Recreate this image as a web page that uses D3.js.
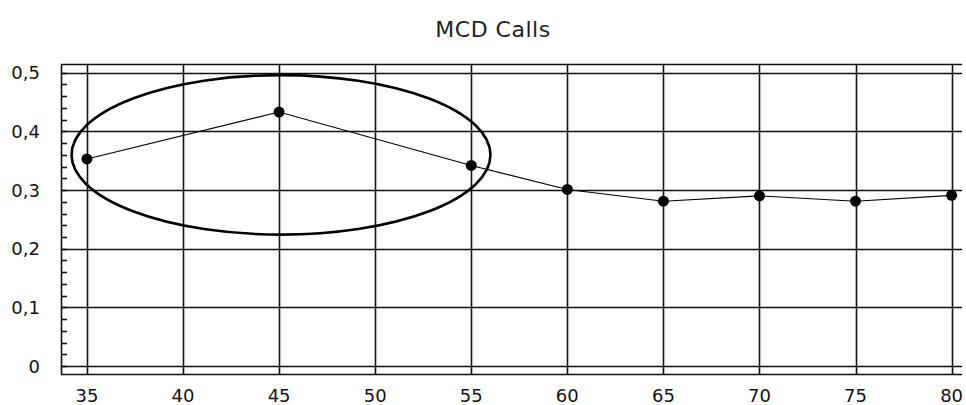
<!DOCTYPE html>
<html>
<head>
<meta charset="utf-8">
<script src="https://cdn.jsdelivr.net/npm/d3@7"></script>
<style>
html,body{margin:0;padding:0;background:#fff;}
svg{display:block;}
text{font-family:"DejaVu Sans",sans-serif;fill:#111;}
</style>
</head>
<body>
<svg id="chart" width="966" height="405"></svg>
<script>
const title = "MCD Calls";
const xValues = [35, 45, 55, 60, 65, 70, 75, 80];
const yValues = [0.353, 0.433, 0.342, 0.301, 0.281, 0.290, 0.281, 0.291];
const xTicks = [35, 40, 45, 50, 55, 60, 65, 70, 75, 80];
const yTicks = [0, 0.1, 0.2, 0.3, 0.4, 0.5];
const yMinorTicks = d3.range(0, 0.52, 0.02);
// highlight ellipse: center (x, y) and radii, in data units
const ellipseCenter = [45.1, 0.36];
const ellipseRadii = [10.9, 0.136];

const svg = d3.select("#chart");
const pLeft = 61, pTop = 64, pRight = 962, pBottom = 374;

const x = d3.scaleLinear().domain([33.65, 80.54]).range([pLeft, pRight]);
const y = d3.scaleLinear().domain([-0.0136, 0.5149]).range([pBottom, pTop]);

const fmt = d => d === 0 ? "0" : d3.format(".1f")(d).replace(".", ",");

// title
svg.append("text").attr("x", 493).attr("y", 37).attr("text-anchor", "middle")
  .style("font-size", "22px").style("fill", "#222").style("letter-spacing", "0.5px").text(title);

// grid
const g = svg.append("g");
g.selectAll("line.vx").data(xTicks).join("line")
  .attr("x1", d => Math.round(x(d)) + 0.5).attr("x2", d => Math.round(x(d)) + 0.5)
  .attr("y1", pTop).attr("y2", pBottom)
  .attr("stroke", "#111").attr("stroke-width", 1.6);
g.selectAll("line.hy").data(yTicks).join("line")
  .attr("y1", d => Math.round(y(d)) + 0.5).attr("y2", d => Math.round(y(d)) + 0.5)
  .attr("x1", pLeft).attr("x2", pRight)
  .attr("stroke", "#111").attr("stroke-width", 1.6);
// minor ticks
g.selectAll("line.mt").data(yMinorTicks).join("line")
  .attr("y1", d => Math.round(y(d)) + 0.5).attr("y2", d => Math.round(y(d)) + 0.5)
  .attr("x1", pLeft).attr("x2", pLeft + 6)
  .attr("stroke", "#111").attr("stroke-width", 1.6);
// frame
g.append("path")
  .attr("d", `M${pRight},${pTop + 0.5}H${pLeft + 0.5}V${pBottom + 0.5}H${pRight}`)
  .attr("fill", "none").attr("stroke", "#111").attr("stroke-width", 1.6);

// axis labels
svg.selectAll("text.yl").data(yTicks).join("text")
  .attr("x", 40).attr("y", d => y(d)).attr("dy", "0.36em").attr("text-anchor", "end")
  .style("font-size", "18px").text(fmt);
svg.selectAll("text.xl").data(xTicks).join("text")
  .attr("x", d => x(d)).attr("y", 402).attr("text-anchor", "middle")
  .style("font-size", "18px").text(d => d);

// line + points
const line = d3.line().x((d, i) => x(xValues[i])).y(d => y(d));
svg.append("path").datum(yValues).attr("d", line)
  .attr("fill", "none").attr("stroke", "#000").attr("stroke-width", 1.1);
svg.selectAll("circle.pt").data(yValues).join("circle")
  .attr("cx", (d, i) => x(xValues[i])).attr("cy", d => y(d)).attr("r", 5.5)
  .attr("fill", "#000");

// ellipse annotation
svg.append("ellipse")
  .attr("cx", x(ellipseCenter[0])).attr("cy", y(ellipseCenter[1]))
  .attr("rx", x(ellipseCenter[0] + ellipseRadii[0]) - x(ellipseCenter[0]))
  .attr("ry", y(ellipseCenter[1]) - y(ellipseCenter[1] + ellipseRadii[1]))
  .attr("fill", "none").attr("stroke", "#000").attr("stroke-width", 2.6);
</script>
</body>
</html>
